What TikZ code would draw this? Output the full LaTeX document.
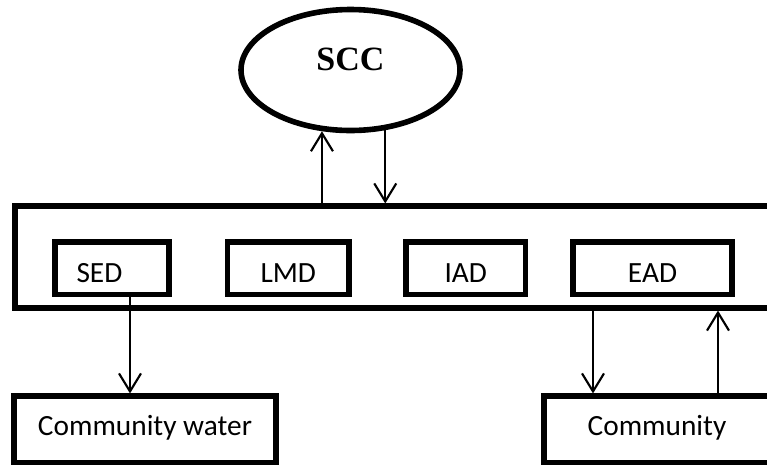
\documentclass[tikz,border=0pt]{standalone}
\usepackage{fontspec}
\setmainfont{Carlito}
\newfontfamily\sccfont{Liberation Serif}
\usetikzlibrary{arrows.meta, shapes.geometric}

\begin{document}
\begin{tikzpicture}[x=0.75pt, y=-0.75pt,
  every node/.style={inner sep=0pt},
  lbl/.style={font=\fontsize{22}{26}\selectfont},
  unit/.style={lbl, draw, line width=3.8pt, minimum height=39.4pt, text height=20.8pt, text depth=0pt},
  party/.style={lbl, draw, line width=3.8pt, minimum height=49.9pt, text height=14pt, text depth=4.5pt},
  arr/.style={-{Straight Barb[length=13.5pt, width=16.5pt]}, line width=1.6pt}]
  \clip (0,0) rectangle (767,465);

  % steering committee and its departments
  \node[ellipse, draw, line width=4.2pt, minimum width=164.25pt, minimum height=90.75pt,
        font=\sccfont\bfseries\fontsize{25.5}{30}\selectfont, text height=16.9pt, text depth=15.6pt]
        (scc) at (350.5,70) {SCC};
  \node[draw, line width=3.8pt, minimum width=573.75pt, minimum height=76.5pt] (panel) at (397.5,257) {};

  \node[unit, minimum width=85.5pt, text width=53.25pt, align=left] (sed) at (112,268.25) {SED};
  \node[unit, minimum width=91.1pt] (lmd) at (288.25,268.25) {LMD};
  \node[unit, minimum width=89.6pt] (iad) at (465.75,268.25) {IAD};
  \node[unit, minimum width=119.25pt] (ead) at (652.5,268.25) {EAD};

  \node[party, minimum width=196.5pt] (cw) at (145,429.25) {Community water};
  \node[party, minimum width=169.5pt] (com) at (657,429.25) {Community};

  \coordinate (x1) at (130,0);
  \coordinate (x2) at (593,0);
  \coordinate (x3) at (718,0);

  \draw[arr] (panel.north -| scc.245) -- (scc.245);
  \draw[arr] (scc.300) -- (panel.north -| scc.300);
  \draw[arr] (sed.south -| x1) -- (cw.north -| x1);
  \draw[arr] (panel.south -| x2) -- (com.north -| x2);
  \draw[arr] (com.north -| x3) -- (panel.south -| x3);
\end{tikzpicture}
\end{document}
